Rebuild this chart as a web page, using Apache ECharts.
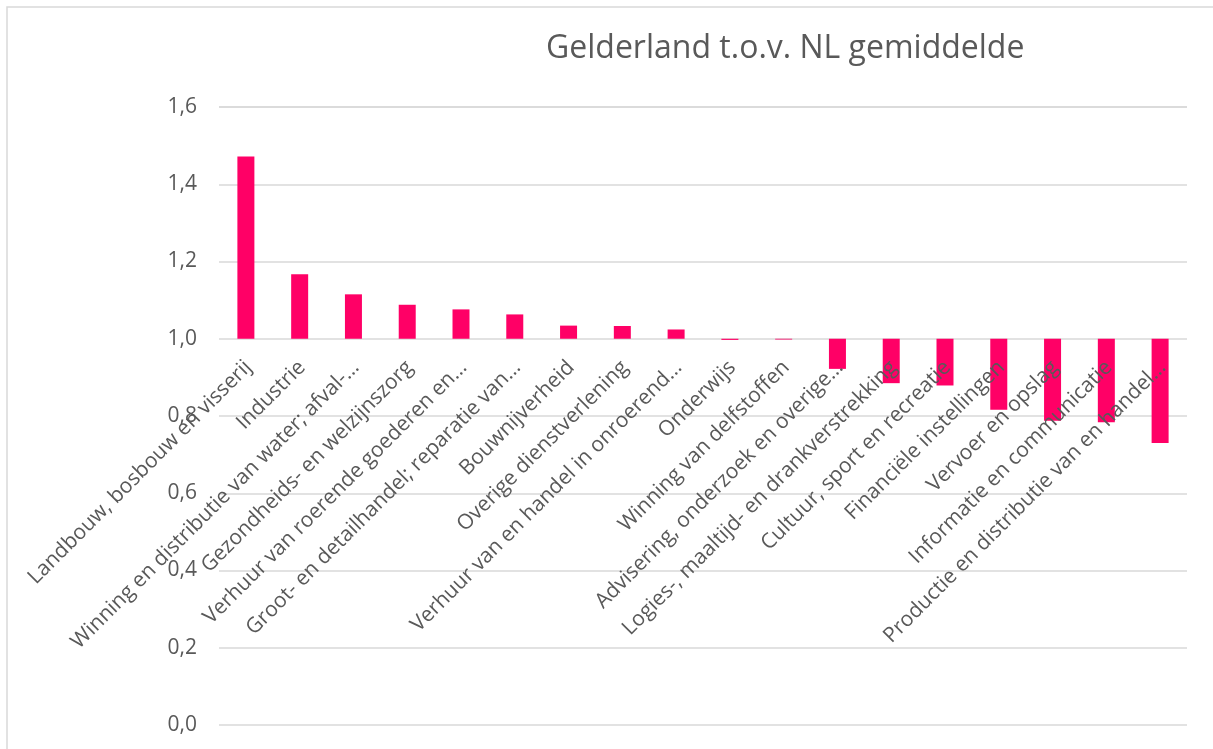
<!DOCTYPE html>
<html>
<head>
<meta charset="utf-8">
<title>Gelderland t.o.v. NL gemiddelde</title>
<script src="https://cdn.jsdelivr.net/npm/echarts@6/dist/echarts.min.js"></script>
<style>
  html, body { margin: 0; padding: 0; background: #fff; }
  #chart { width: 1213px; height: 749px; }
</style>
</head>
<body>
<div id="chart"></div>
<script>
// sectoren zoals op de as (afgekapt zoals in het origineel)
const categories = [
  'Landbouw, bosbouw en visserij',
  'Industrie',
  'Winning en distributie van water; afval-…',
  'Gezondheids- en welzijnszorg',
  'Verhuur van roerende goederen en…',
  'Groot- en detailhandel; reparatie van…',
  'Bouwnijverheid',
  'Overige dienstverlening',
  'Verhuur van en handel in onroerend…',
  'Onderwijs',
  'Winning van delfstoffen',
  'Advisering, onderzoek en overige…',
  'Logies-, maaltijd- en drankverstrekking',
  'Cultuur, sport en recreatie',
  'Financiële instellingen',
  'Vervoer en opslag',
  'Informatie en communicatie',
  'Productie en distributie van en handel…'
];

// index t.o.v. NL gemiddelde (1,0 = gemiddeld)
const indexValues = [
  1.472, 1.167, 1.115, 1.088, 1.076, 1.063, 1.034, 1.033, 1.024,
  0.997, 0.998, 0.922, 0.885, 0.879, 0.816, 0.788, 0.784, 0.730
];

const yTicks = [0, 1.6, 0.2];   // min, max, stap
const baseline = 1.0;

const textColor = '#595959';
const lineColor = '#D9D9D9';
const barColor = '#FF0066';
const font = '"Open Sans", "Liberation Sans", sans-serif';

const chart = echarts.init(document.getElementById('chart'));

// staven vanaf 1,0: waarden verschuiven zodat 0 = 1,0
const shifted = indexValues.map(v => +(v - baseline).toFixed(4));
const fmt = v => (v + baseline).toFixed(1).replace('.', ',');
const yMin = yTicks[0] - baseline;

chart.setOption({
  animation: false,
  backgroundColor: '#fff',
  title: {
    text: 'Gelderland t.o.v. NL gemiddelde',
    left: 541,
    top: 28,
    textStyle: { color: textColor, fontFamily: font, fontSize: 32, fontWeight: 'normal' }
  },
  graphic: [{
    type: 'rect',
    shape: { x: 7, y: 7, width: 1230, height: 800 },
    style: { fill: 'none', stroke: lineColor, lineWidth: 1.5 },
    silent: true
  }],
  grid: {
    left: 219, right: 26, top: 107, bottom: 24,
    containLabel: false,
    outerBoundsMode: 'none'
  },
  xAxis: {
    type: 'category',
    data: categories,
    z: 5,
    axisLine: { show: false, onZero: false },
    axisTick: { show: false },
    axisLabel: {
      interval: 0,
      rotate: 45,
      margin: 13,
      padding: [0, 7, 0, 0],
      verticalAlign: 'top',
      color: textColor,
      fontFamily: font,
      fontSize: 21
    }
  },
  yAxis: {
    type: 'value',
    min: yMin,
    max: yTicks[1] - baseline,
    interval: yTicks[2],
    axisLine: { show: false },
    axisTick: { show: false },
    splitLine: { lineStyle: { color: lineColor, width: 1.5 } },
    axisLabel: {
      margin: 22,
      color: textColor,
      fontFamily: font,
      fontSize: 21,
      formatter: fmt
    }
  },
  series: [{
    type: 'bar',
    data: shifted,
    barWidth: 17,
    itemStyle: { color: barColor }
  }]
});

// categorie-as verplaatsen naar de 1,0-lijn (positie via de y-schaal)
const yBase = chart.convertToPixel({ yAxisIndex: 0 }, 0);
const yBottom = chart.convertToPixel({ yAxisIndex: 0 }, yMin);
chart.setOption({ xAxis: { offset: -(yBottom - yBase) } });
</script>
</body>
</html>
